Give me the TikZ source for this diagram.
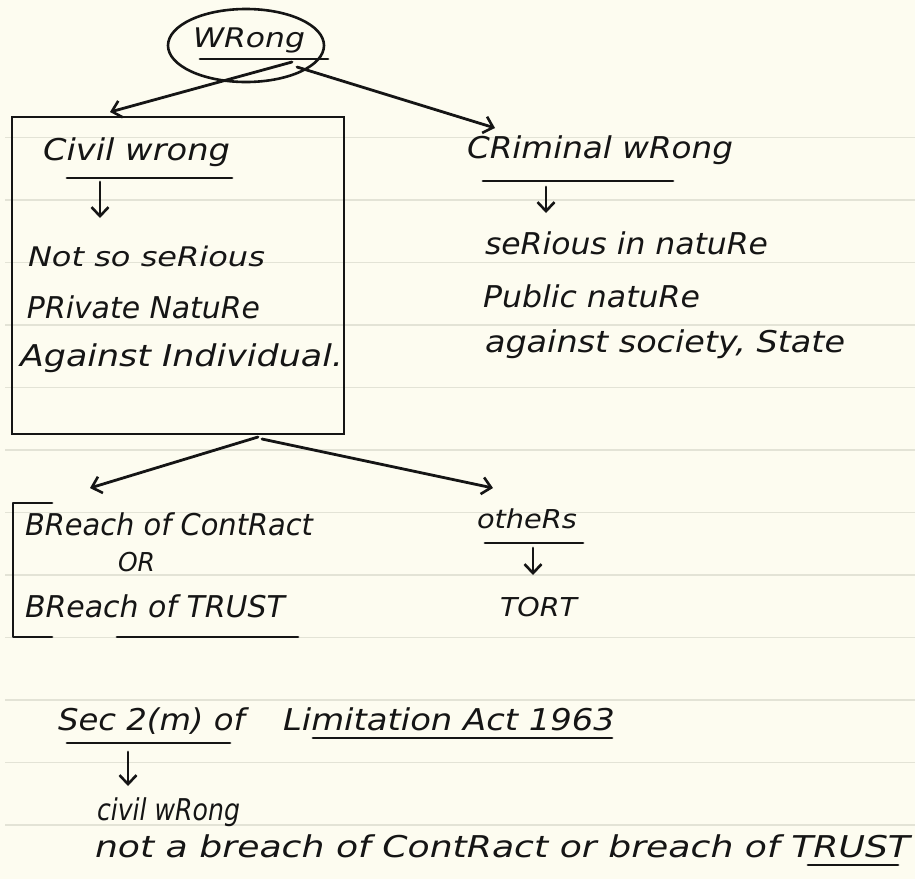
\documentclass[tikz,border=0pt]{standalone}
\usepackage{fontspec}
\setmainfont{DejaVu Sans}
\usepackage{graphicx}
\usetikzlibrary{arrows.meta,shapes.geometric}
\definecolor{paper}{HTML}{FDFCF0}
\definecolor{rulecol}{HTML}{E3E3D6}
\definecolor{ink}{HTML}{151515}
\newcommand{\hw}[2]{\resizebox{#1pt}{\height}{#2}}
\begin{document}
\begin{tikzpicture}[x=1pt,y=-1pt,
  txt/.style={anchor=base west, inner sep=0pt, outer sep=0pt, text=ink,
    font=\itshape\fontsize{30}{30}\selectfont},
  small/.style={txt, font=\itshape\fontsize{26}{26}\selectfont},
  inkline/.style={draw=ink, line width=2.8pt, line cap=round, line join=round},
  arr/.style={inkline, -{Straight Barb[length=9pt,width=17pt,line width=2.6pt]}},
  ruled/.style={draw=rulecol, line width=1.6pt}]
\fill[paper] (0,0) rectangle (915,879);
\useasboundingbox (0,0) rectangle (915,879);
\foreach \k in {0,...,11} \draw[ruled] (5,{137.5+62.5*\k}) -- (915,{137.5+62.5*\k});

% root
\node[draw=ink, line width=2.6pt, ellipse, minimum width=156pt, minimum height=73pt, inner sep=0pt] (wrongoval) at (246,45.5) {};
\node[txt, font=\itshape\fontsize{27}{27}\selectfont] (wrong) at (193,47) {\hw{112}{WRong}};
\draw[inkline] (200,59) -- (328,59);

% civil box
\node[draw=ink, line width=2.8pt, minimum width=332pt, minimum height=317pt, inner sep=0pt] (civbox) at (178,275.5) {};
\node[txt] (civil) at (43,160) {\hw{187}{Civil wrong}};
\draw[inkline] (67,178) -- (232,178);
\coordinate (civdownA) at (100,182);
\coordinate (civdownB) at (100,218);
\draw[arr] (civdownA) -- (civdownB);
\node[txt, font=\itshape\fontsize{27}{27}\selectfont] (notso) at (28,266) {\hw{237}{Not so seRious}};
\node[txt] (private) at (27,318) {\hw{233}{PRivate NatuRe}};
\node[txt] (against) at (20,366) {\hw{323}{Against Individual.}};

% criminal
\node[txt] (criminal) at (467,158) {\hw{266}{CRiminal wRong}};
\draw[inkline] (483,181) -- (673,181);
\coordinate (crdownA) at (546,187);
\coordinate (crdownB) at (546,213);
\draw[arr] (crdownA) -- (crdownB);
\node[txt] (serious) at (485,254) {\hw{283}{seRious in natuRe}};
\node[txt] (public) at (483,307) {\hw{217}{Public natuRe}};
\node[txt] (society) at (485,352) {\hw{360}{against society, State}};

% arrows from root
\coordinate (rootL) at (292,62);
\coordinate (rootR) at (297,67);
\coordinate (civtip) at (110,112);
\coordinate (crtip) at (495,128);
\draw[arr] (rootL) -- (civtip);
\draw[arr] (rootR) -- (crtip);

% arrows from box
\coordinate (boxL) at (258,437);
\coordinate (boxR) at (262,439);
\coordinate (breachtip) at (90,488);
\coordinate (otherstip) at (493,488);
\draw[arr] (boxL) -- (breachtip);
\draw[arr] (boxR) -- (otherstip);

% breach group
\draw[inkline] (52,503) -- (13,503) -- (13,637) -- (52,637);
\node[txt] (breachc) at (25,535) {\hw{288}{BReach of ContRact}};
\node[small] (or) at (118,571) {\hw{37}{OR}};
\node[txt] (breacht) at (25,617) {\hw{260}{BReach of TRUST}};
\draw[inkline] (117,637) -- (298,637);

% others
\node[small] (others) at (477,528) {\hw{100}{otheRs}};
\draw[inkline] (485,543) -- (583,543);
\coordinate (othdownA) at (533,548);
\coordinate (othdownB) at (533,575);
\draw[arr] (othdownA) -- (othdownB);
\node[small] (tort) at (500,616) {\hw{77}{TORT}};

% bottom section
\node[txt] (sec) at (58,730) {\hw{187}{Sec 2(m) of}};
\node[txt] (limact) at (283,730) {\hw{332}{Limitation Act 1963}};
\draw[inkline] (67,743) -- (230,743);
\draw[inkline] (313,738) -- (612,738);
\coordinate (secdownA) at (128,752);
\coordinate (secdownB) at (128,786);
\draw[arr] (secdownA) -- (secdownB);
\node[txt] (civil2) at (97,820) {\hw{143}{civil wRong}};
\node[txt] (notbreach) at (95,857) {\hw{815}{not a breach of ContRact or breach of TRUST}};
\draw[inkline] (808,865) -- (898,865);
\end{tikzpicture}
\end{document}
